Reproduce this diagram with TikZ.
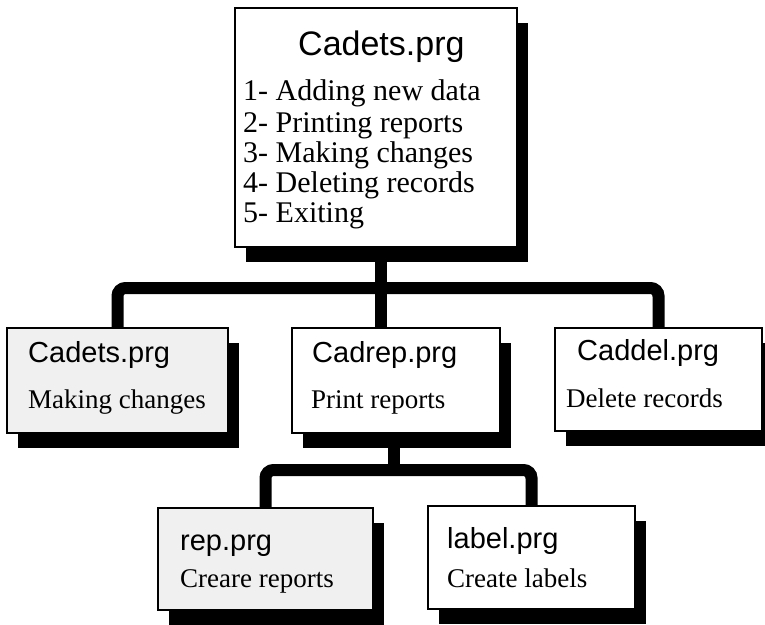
\documentclass[tikz,border=0pt]{standalone}
\usepackage{fontspec}
\setmainfont{Liberation Serif}
\setsansfont{Liberation Sans}
\usepackage{tikz}
\usetikzlibrary{shadows,backgrounds}
\newcommand{\boxline}{1.6pt}
\newcommand{\bigprgfont}{\sffamily\fontsize{34}{40}\selectfont}
\newcommand{\menufont}{\rmfamily\fontsize{30}{36}\selectfont}
\newcommand{\prgfont}{\sffamily\fontsize{29}{34}\selectfont}
\newcommand{\descfont}{\rmfamily\fontsize{27}{32}\selectfont}

\begin{document}
\begin{tikzpicture}[x=1pt,y=-1pt,
    box/.style={draw, line width=\boxline, inner sep=0pt,
      drop shadow={shadow xshift=11pt, shadow yshift=-15pt, fill=black, opacity=1}},
    link/.style={line width=12pt, rounded corners=8pt},
    txt/.style={anchor=base west, inner sep=0pt}]
  \useasboundingbox (0,0) rectangle (765,624);

  % boxes
  \node (main) at (376,127.5) [box, fill=white, minimum width=282pt, minimum height=239pt] {};
  \node (chg) at (117.5,380.5) [box, fill=black!6, minimum width=221pt, minimum height=105pt] {};
  \node (prt) at (396,380.5) [box, fill=white, minimum width=208pt, minimum height=105pt] {};
  \node (del) at (658.5,379.5) [box, fill=white, minimum width=207pt, minimum height=103pt] {};
  \node (rep) at (265.5,559) [box, fill=black!6, minimum width=215pt, minimum height=102pt] {};
  \node (lab) at (531.5,557.5) [box, fill=white, minimum width=207pt, minimum height=103pt] {};

  % texts
  \node (mainT) at (298,55) [txt] {\bigprgfont Cadets.prg};
  \node (m1) at (243,100) [txt] {\menufont 1- Adding new data};
  \node (m2) at (243,132) [txt] {\menufont 2- Printing reports};
  \node (m3) at (243,162) [txt] {\menufont 3- Making changes};
  \node (m4) at (243,192) [txt] {\menufont 4- Deleting records};
  \node (m5) at (243,222) [txt] {\menufont 5- Exiting};
  \node (chgT) at (28,362) [txt] {\prgfont Cadets.prg};
  \node (chgD) at (28,408) [txt] {\descfont Making changes};
  \node (prtT) at (312,362) [txt] {\prgfont Cadrep.prg};
  \node (prtD) at (311,408) [txt] {\descfont Print reports};
  \node (delT) at (577,360) [txt] {\prgfont Caddel.prg};
  \node (delD) at (566,407) [txt] {\descfont Delete records};
  \node (repT) at (180,550) [txt] {\prgfont rep.prg};
  \node (repD) at (180,587) [txt] {\descfont Creare reports};
  \node (labT) at (447,548) [txt] {\prgfont label.prg};
  \node (labD) at (447,587) [txt] {\descfont Create labels};

  % connectors, behind the boxes
  \coordinate (hub1) at (381,288);
  \coordinate (hub2) at (394,470);
  \begin{scope}[on background layer]
    \draw[link] (main.south -| hub1) -- (prt.north -| hub1);
    \draw[link] (chg.north) |- (hub1) -| (del.north);
    \draw[link] (prt.south -| hub2) -- (hub2);
    \draw[link] (rep.north) |- (hub2) -| (lab.north);
  \end{scope}
\end{tikzpicture}
\end{document}
